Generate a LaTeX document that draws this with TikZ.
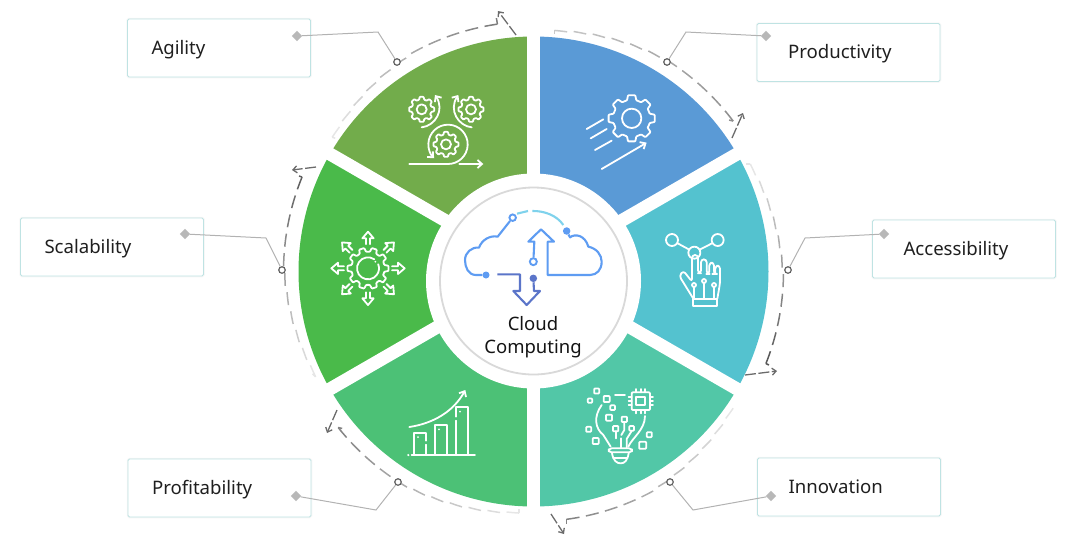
\documentclass[tikz,border=0pt]{standalone}
\usepackage{fontspec}
\setmainfont{Noto Sans}
\usetikzlibrary{positioning}
\usetikzlibrary{arrows.meta}
\usetikzlibrary{shapes.geometric}
\usetikzlibrary{calc}
\definecolor{wedgeBlue}{HTML}{5A9AD6}
\definecolor{wedgeTeal}{HTML}{54C2CF}
\definecolor{wedgeMint}{HTML}{52C7A7}
\definecolor{wedgeJade}{HTML}{4CC176}
\definecolor{wedgeGreen}{HTML}{4ABA4A}
\definecolor{wedgeOlive}{HTML}{72AC4B}
\definecolor{boxEdge}{HTML}{BFE3E3}
\definecolor{ringGray}{HTML}{4A4A4A}
\definecolor{cloudBlue}{HTML}{5E9CF2}
\definecolor{cloudDark}{HTML}{5B75C9}
\definecolor{cloudSky}{HTML}{7FD2EC}
\tikzset{x=1pt,y=-1pt, % Picture is written in pixels of the reference
labelbox/.style={ % Sets the properties for each text box
draw=boxEdge,
fill=white,
line width=.9pt,
rounded corners=1.5pt,
preaction={draw=black!3,line width=2.5pt},
minimum width=183pt,
minimum height=58pt,
text width=135pt,
text height=15pt,
text depth=3pt,
inner xsep=0pt,
font=\fontsize{18.6}{22}\selectfont,
text=black!88,
align=left},
labelright/.style={ % Text box on the right, text further in
labelbox,
text width=121pt},
leadertip/.style={ % Gray diamond in a text box
diamond,
fill=black!28,
inner sep=0pt,
minimum size=10.5pt},
leaderdot/.style={ % Small ring on the dashed arc
circle,
draw=black!62,
fill=white,
line width=1.2pt,
inner sep=0pt,
minimum size=6.5pt},
leader/.style={ % Line from a text box to the dashed arc
draw=black!30,
line width=1pt},
arcdash/.style={ % One dash of the arcs and the hooks
line width=1.5pt},
outarrow/.style={ % Short arrow after each dashed arc
draw=black!58,
line width=1.3pt,
dash pattern=on 11pt off 2.5pt,
-{Straight Barb[length=4pt,width=7pt]}},
iconline/.style={ % White strokes of the icons
draw=white,
line width=1.8pt,
line cap=round,
line join=round},
iconarrow/.style={ % White strokes with an arrow head
iconline,
-{Straight Barb[length=4.5pt,width=8pt]}},
cloudline/.style={ % Strokes of the cloud in the centre
draw=cloudBlue,
line width=2.1pt,
line join=round}}
% center, outer radius, hub radius, teeth, tooth height
\newcommand{\cogwheel}[5]{
\begin{scope}[shift={#1}]
\pgfmathsetmacro{\toothstep}{360/#4}
\draw[iconline,rounded corners=.7pt] ({.68*\toothstep}:{#2-#5})
\foreach \i in {1,...,#4} {-- ({(\i-.2)*\toothstep}:#2) -- ({(\i+.2)*\toothstep}:#2) -- ({(\i+.32)*\toothstep}:{#2-#5}) -- ({(\i+.68)*\toothstep}:{#2-#5})} -- cycle;
\ifnum#3>0 \draw[iconline] (0,0) circle (#3); \fi
\end{scope}}
% center, side of a small square
\newcommand{\chipsquare}[2]{
\draw[iconline,rounded corners=.8pt] ($#1+(-#2/2,-#2/2)$) rectangle ($#1+(#2/2,#2/2)$);}

\begin{document}
\begin{tikzpicture}
\useasboundingbox (0,0) rectangle (1079,550);

% six parts of the wheel
\begin{scope}[shift={(533.5,271.5)}]
\foreach \a/\c in {-90/wedgeBlue,-30/wedgeTeal,30/wedgeMint,90/wedgeJade,150/wedgeGreen,210/wedgeOlive} {
\fill[\c] (0,0) -- (\a:235) arc[start angle=\a,end angle=\a+60,radius=235] -- cycle;
}
\foreach \a in {30,90,150} {
\draw[white,line width=13pt] (\a:241) -- (\a+180:241);
}
\end{scope}
\fill[white] (533.5,281) circle (107.5);
\draw[black!15,line width=1.8pt] (533.5,281) circle (93.5);

% dashed arcs with their hooks, light at the start and dark at the end
\begin{scope}[shift={(533.5,271.5)}]
\foreach \a/\first/\dark/\sx/\sy/\ex/\ey in {-85/30/62/0/4/-4/-1,-26.4/14/92/-4/0/3/1.5,34.4/14/68/0/0/0/5,93.4/14/68/0/-4/4/1,154.2/14/88/-3/-3/-3/-1,213.7/14/72/3/1/-1/-6} {
\foreach \i in {0,...,10} {
\pgfmathsetmacro{\tint}{int(\first+(\dark-\first)*\i/10)}
\pgfmathsetmacro{\rad}{242+8*min(1,\i/6)}
\draw[arcdash,ringGray!\tint] (\a+\i*4.5:\rad) arc[start angle=\a+\i*4.5,end angle=\a+\i*4.5+3,radius=\rad];
}
\draw[arcdash,ringGray!\first] (\a:242) -- ++(\sx,\sy);
\draw[arcdash,ringGray!\dark] (\a+48:250) -- ++(\ex,\ey);
}
\end{scope}

% short arrows
\coordinate (productivityOut) at (732,138);
\coordinate (productivityHead) at (743,113);
\coordinate (accessibilityOut) at (745,375);
\coordinate (accessibilityHead) at (777,371);
\coordinate (innovationOut) at (551,514);
\coordinate (innovationHead) at (564,534);
\coordinate (profitabilityOut) at (337,410);
\coordinate (profitabilityHead) at (327,433);
\coordinate (scalabilityOut) at (316,167);
\coordinate (scalabilityHead) at (292,170);
\coordinate (agilityOut) at (516,35);
\coordinate (agilityHead) at (498,11);
\foreach \n in {productivity,accessibility,innovation,profitability,scalability,agility} {
\draw[outarrow] (\n Out) -- (\n Head);
}

% text boxes
\node[labelbox] (agility) at (219,48) {Agility};
\node[labelright] (productivity) at (848.5,52.5) {Productivity};
\node[labelright] (accessibility) at (964,249) {Accessibility};
\node[labelright] (innovation) at (849,487) {Innovation};
\node[labelbox] (profitability) at (219.5,488) {Profitability};
\node[labelbox] (scalability) at (112,247) {Scalability};

% leaders
\foreach \n/\tx/\ty/\bx/\by/\dx/\dy in {
agility/297/36/378/32/397/62,
productivity/766/36/686/32/667/62,
accessibility/884/234/805/238/788/270,
innovation/771/496/693/510/670/482,
profitability/296/496/376/510/398/482,
scalability/185/234/266/238/282/270} {
\node[leadertip] (\n Tip) at (\tx,\ty) {};
\coordinate (\n Bend) at (\bx,\by);
\node[leaderdot] (\n Dot) at (\dx,\dy) {};
\draw[leader] (\n Tip) -- (\n Bend) -- (\n Dot);
}

% cloud in the centre
\begin{scope}[shift={(400,180)},scale=1/3]
\node[circle,fill=cloudBlue,inner sep=0pt,minimum size=7pt] (cloudA) at (258,285) {};
\node[circle,draw=cloudBlue,fill=white,line width=1.9pt,inner sep=0pt,minimum size=6.5pt] (cloudB) at (338,113) {};
\node[circle,fill=cloudBlue,inner sep=0pt,minimum size=7.5pt] (cloudC) at (500,153) {};
\node[circle,draw=cloudBlue,fill=white,line width=1.9pt,inner sep=0pt,minimum size=7pt] (cloudD) at (400,245) {};
\node[circle,fill=cloudDark,inner sep=0pt,minimum size=7.5pt] (cloudE) at (400,295) {};
\draw[cloudline] (cloudA) -- (228,285) .. controls (205,285) and (195,262) .. (195,240) .. controls (195,218) and (215,200) .. (237,203) .. controls (245,180) and (270,165) .. (293,170) -- (cloudB);
\draw[cloudline] (cloudC) -- (510,172) .. controls (525,160) and (555,165) .. (565,200) .. controls (590,205) and (605,225) .. (605,245) .. controls (605,270) and (590,285) .. (570,285) -- (443,285) -- (443,185) -- (462,185) -- (423,148) -- (385,185) -- (403,185) -- (cloudD);
\draw[cloudline,draw=cloudDark] (292,283) -- (360,283) -- (360,333) -- (340,333) -- (380,375) -- (420,333) -- (402,333) -- (cloudE);
\draw[cloudline,draw=cloudSky] (351,101) -- (384,93);
\draw[cloudline,draw=cloudSky] (397,93) .. controls (430,92) and (470,105) .. (490,135);
\end{scope}
\node[align=center,font=\fontsize{18.5}{22.5}\selectfont,text=black!92] (cloudtext) at (533,337) {Cloud\\Computing};

% agility icon
\begin{scope}[shift={(330,10)},scale=1/3]
\cogwheel{(275,298)}{38}{15}{8}{8}
\cogwheel{(423,298)}{38}{15}{8}{8}
\cogwheel{(348,403)}{38}{15}{8}{8}
\draw[iconarrow] (275,352) .. controls (315,348) and (345,300) .. (315,255);
\draw[iconarrow] (425,352) .. controls (385,348) and (355,300) .. (385,255);
\draw[iconarrow] (238,462) -- (352,462) arc[start angle=92,end angle=-225,radius=59];
\draw[iconarrow] (388,462) -- (460,462);
\end{scope}

% productivity icon
\begin{scope}[shift={(540,10)},scale=1/3]
\cogwheel{(275,325)}{70}{29}{8}{14}
\draw[iconline] (140,357) -- (190,328);
\draw[iconline] (152,385) -- (200,357);
\draw[iconline] (165,420) -- (215,392);
\draw[iconarrow] (185,477) -- (320,398);
\end{scope}

% accessibility icon
\begin{scope}[shift={(630,200)},scale=1/3]
\draw[iconline] (126,120) circle (18);
\draw[iconline] (263,120) circle (18);
\draw[iconline] (193,158) circle (18);
\draw[iconline] (143,130) -- (178,149);
\draw[iconline] (246,130) -- (209,149);
\draw[iconline,rounded corners=3pt] (190,296) -- (148,228) -- (160,212) -- (186,245) -- (186,165) -- (204,165) -- (204,220) -- (213,220) -- (213,178) -- (230,178) -- (230,222) -- (238,222) -- (238,188) -- (252,188) -- (252,222) -- (256,222) -- (256,197) -- (270,197) -- (270,250) -- (262,296);
\draw[iconline] (190,298) rectangle (262,318);
\foreach \x/\y in {192/255,222/243,252/255} {
\draw[iconline] (\x,\y) circle (6);
\draw[iconline] (\x,\y+6) -- (\x,296);
}
\end{scope}

% innovation icon
\begin{scope}[shift={(550,370)},scale=1/3]
\draw[iconline,rounded corners=1pt] (245,67) rectangle (300,120);
\draw[iconline] (258,80) rectangle (285,106);
\foreach \p in {80,93,106} {
\draw[iconline] (236,\p) -- (245,\p);
\draw[iconline] (300,\p) -- (309,\p);
}
\foreach \p in {258,272,286} {
\draw[iconline] (\p,57) -- (\p,67);
\draw[iconline] (\p,120) -- (\p,130);
}
\draw[iconline] (195,75) -- (225,75);
\foreach \x/\y/\s in {140/63/15,120/92/13,170/87/18,188/113/14,177/143/18,223/148/16,197/176/16,245/175/14,116/178/15,137/213/18,298/194/15,278/226/21} {
\chipsquare{(\x,\y)}{\s}
}
\draw[iconline] (155,105) .. controls (130,140) and (135,175) .. (160,195) -- (182,230);
\draw[iconline] (285,138) .. controls (285,180) and (245,205) .. (235,230);
\draw[iconline,rounded corners=3pt] (176,235) rectangle (246,247);
\draw[iconline] (186,250) .. controls (190,272) and (200,280) .. (212,280) .. controls (224,280) and (232,272) .. (236,250);
\draw[iconline] (190,263) -- (232,263);
\draw[iconline] (197,184) -- (197,205);
\draw[iconline] (212,205) -- (212,232);
\draw[iconline] (223,156) -- (223,180) -- (214,195);
\draw[iconline] (245,183) -- (230,207) -- (230,232);
\end{scope}

% profitability icon
\begin{scope}[shift={(320,370)},scale=1/3]
\draw[iconline] (283,252) -- (283,188) -- (318,188) -- (318,212);
\draw[iconline] (318,224) -- (318,252);
\draw[iconline] (346,252) -- (346,166) -- (382,166) -- (382,252);
\draw[iconline] (408,252) -- (408,152);
\draw[iconline] (408,140) -- (408,112) -- (445,112) -- (445,252);
\draw[iconline] (275,255) -- (465,255);
\fill[white] (265,255) circle (3.5);
\fill[white] (294,201) circle (3);
\fill[white] (357,178) circle (3);
\fill[white] (420,125) circle (3);
\draw[iconarrow] (268,171) .. controls (340,160) and (400,125) .. (436,60);
\end{scope}

% scalability icon
\begin{scope}[shift={(270,160)},scale=1/3]
\cogwheel{(294,325)}{62}{0}{10}{12}
\draw[iconline] (294,325) ++(-55:33) arc[start angle=-55,end angle=-382,radius=33];
\fill[white] (316,305) circle (3);
\foreach \a in {0,45,...,315} {
\begin{scope}[shift={(294,325)},rotate=\a]
\draw[iconline,yscale=-1] (72,-6) -- (90,-6) -- (90,-17) -- (110,0) -- (90,17) -- (90,6) -- (72,6);
\end{scope}
}
\end{scope}
\end{tikzpicture}
\end{document}
